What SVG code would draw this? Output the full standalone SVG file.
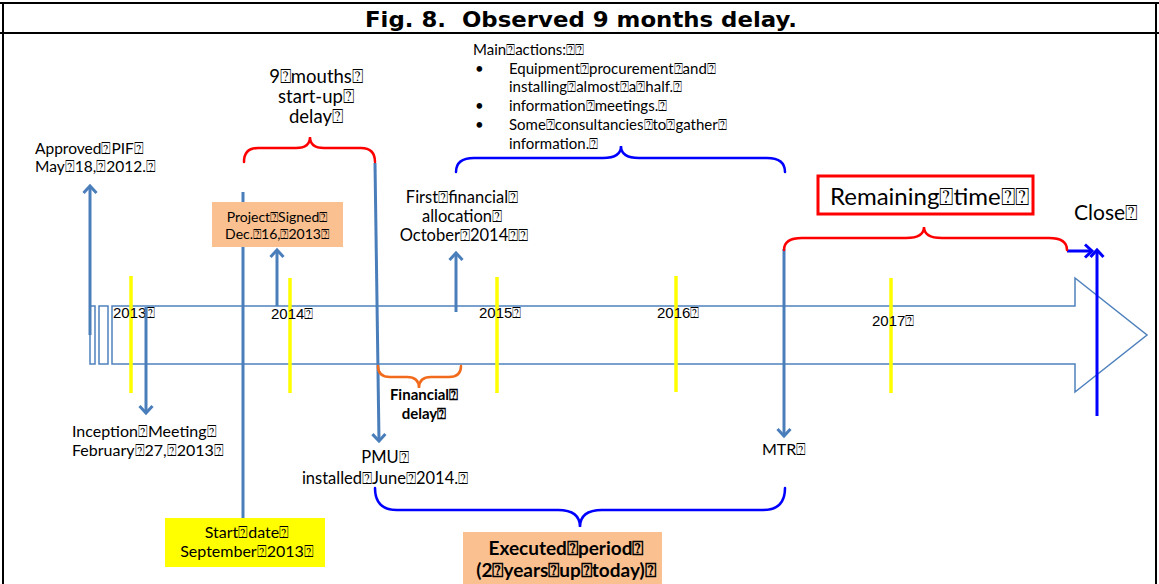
<svg xmlns="http://www.w3.org/2000/svg" width="1159" height="584" viewBox="0 0 1159 584">
  <style>
    .t { font-family: Lato, "Liberation Sans", sans-serif; font-size: 15px; fill: #000; }
    .c { text-anchor: middle; }
    .b { font-weight: bold; }
    .yr { font-family: "Liberation Sans", sans-serif; font-size: 15px; fill: #000; }
    .frame { stroke: #000; stroke-width: 2; fill: none; }
    .arr { stroke: #4A7EBB; stroke-width: 3; fill: none; }
    .arrB { stroke: #0000FF; stroke-width: 3; fill: none; }
    .yel { stroke: #FFFF00; stroke-width: 3.5; }
    .brace { fill: none; stroke-width: 2.5; stroke-linecap: round; }
  </style>
  <defs>
    <marker id="headSteel" markerUnits="userSpaceOnUse" markerWidth="18" markerHeight="18" viewBox="-9 -9 18 18" refX="0" refY="0" orient="auto">
      <path d="M-7,-6.5 L0,0 L-7,6.5" fill="none" stroke="#4A7EBB" stroke-width="3"/>
    </marker>
    <marker id="headBlue" markerUnits="userSpaceOnUse" markerWidth="18" markerHeight="18" viewBox="-9 -9 18 18" refX="0" refY="0" orient="auto">
      <path d="M-7,-6.5 L0,0 L-7,6.5" fill="none" stroke="#0000FF" stroke-width="3"/>
    </marker>
  </defs>

  <rect width="1159" height="584" fill="#fff"/>

  <!-- page frame and title bar -->
  <g id="title">
    <line class="frame" x1="0" y1="3" x2="1159" y2="3"/>
    <line class="frame" x1="0" y1="33" x2="1159" y2="33"/>
    <line class="frame" x1="3" y1="3" x2="3" y2="584"/>
    <line class="frame" x1="1156" y1="3" x2="1156" y2="584"/>
    <text x="581" y="27" text-anchor="middle" xml:space="preserve" font-family="'DejaVu Sans', Verdana, sans-serif" font-weight="bold" font-size="22" textLength="432" lengthAdjust="spacingAndGlyphs">Fig. 8.  Observed 9 months delay.</text>
  </g>

  <!-- timeline block arrow -->
  <g id="timeline">
    <path d="M112,306 H1075 V278 L1147,335 L1075,392 V364 H112 Z" fill="#fff" stroke="#4F81BD" stroke-width="1.5"/>
    <rect x="90" y="306" width="5" height="58" fill="#fff" stroke="#4F81BD" stroke-width="1.5"/>
    <rect x="99" y="306" width="9" height="58" fill="#fff" stroke="#4F81BD" stroke-width="1.5"/>
  </g>

  <!-- year markers -->
  <g id="years">
    <line class="yel" x1="131" y1="276" x2="131" y2="393"/>
    <line class="yel" x1="290" y1="278" x2="290" y2="393"/>
    <line class="yel" x1="497" y1="277" x2="497" y2="393"/>
    <line class="yel" x1="676" y1="276" x2="676" y2="392"/>
    <line class="yel" x1="891" y1="278" x2="891" y2="393"/>
    <text class="yr" x="113" y="318">2013⍰</text>
    <text class="yr" x="271" y="319">2014⍰</text>
    <text class="yr" x="479" y="318">2015⍰</text>
    <text class="yr" x="657" y="318">2016⍰</text>
    <text class="yr" x="872" y="326">2017⍰</text>
  </g>

  <!-- connectors -->
  <g id="connectors">
    <line class="arr" x1="90" y1="335" x2="90" y2="186" marker-end="url(#headSteel)"/>
    <line class="arr" x1="146" y1="307" x2="146" y2="413" marker-end="url(#headSteel)"/>
    <line class="arr" x1="243" y1="192" x2="243" y2="518"/>
    <line class="arr" x1="277" y1="306" x2="277" y2="250" marker-end="url(#headSteel)"/>
    <line class="arr" x1="375" y1="163" x2="379" y2="441" marker-end="url(#headSteel)"/>
    <line class="arr" x1="456" y1="312" x2="456" y2="253" marker-end="url(#headSteel)"/>
    <line class="arr" x1="784" y1="249" x2="784" y2="436" marker-end="url(#headSteel)"/>
    <line class="arrB" x1="1097" y1="416" x2="1097" y2="250" marker-end="url(#headBlue)"/>
    <line class="arrB" x1="1067" y1="251" x2="1092" y2="251" marker-end="url(#headBlue)"/>

    <!-- braces -->
    <path class="brace" stroke="#FF0000" d="M244,162 Q244,148 258,148 L296,148 Q310,148 310,137 Q310,148 324,148 L361,148 Q375,148 375,162"/>
    <path class="brace" stroke="#0000FF" d="M456,172 Q456,158 474,158 L603,158 Q621,158 621,146 Q621,158 639,158 L767,158 Q785,158 785,172"/>
    <path class="brace" stroke="#FF0000" d="M784,250 Q784,238 802,238 L906,238 Q924,238 924,227 Q924,238 942,238 L1049,238 Q1067,238 1067,250"/>
    <path class="brace" stroke="#F26A1B" d="M378,366 Q378,377 390,377 L407,377 Q419,377 419,388 Q419,377 431,377 L449,377 Q461,377 461,366"/>
    <path class="brace" stroke="#0000FF" d="M375,488 Q375,510 397,510 L558,510 Q580,510 580,527 Q580,510 602,510 L763,510 Q785,510 785,488"/>
  </g>

  <!-- milestone labels -->
  <g id="approved-pif">
    <text class="t" x="35" y="154" style="font-size:15.5px">Approved⍰PIF⍰</text>
    <text class="t" x="35" y="172" style="font-size:15.5px">May⍰18,⍰2012.⍰</text>
  </g>

  <g id="start-up-delay">
    <text class="t c" x="316" y="83" style="font-size:18.5px">9⍰mouths⍰</text>
    <text class="t c" x="316" y="103" style="font-size:18.5px">start-up⍰</text>
    <text class="t c" x="316" y="123" style="font-size:18.5px">delay⍰</text>
  </g>

  <g id="main-actions">
    <text class="t" x="473" y="55">Main⍰actions:⍰⍰</text>
    <text class="t" x="475" y="74">•</text>
    <text class="t" x="509" y="74">Equipment⍰procurement⍰and⍰</text>
    <text class="t" x="509" y="92">installing⍰almost⍰a⍰half.⍰</text>
    <text class="t" x="475" y="111">•</text>
    <text class="t" x="509" y="111">information⍰meetings.⍰</text>
    <text class="t" x="475" y="130">•</text>
    <text class="t" x="509" y="130">Some⍰consultancies⍰to⍰gather⍰</text>
    <text class="t" x="509" y="149">information.⍰</text>
  </g>

  <g id="project-signed">
    <rect x="212" y="202" width="131" height="45" fill="#FAC090"/>
    <text class="t c" x="277" y="222" style="font-size:14px">Project⍰Signed⍰</text>
    <text class="t c" x="277" y="239" style="font-size:14px">Dec.⍰16,⍰2013⍰</text>
  </g>

  <g id="first-allocation">
    <text class="t c" x="462" y="203" style="font-size:16.5px">First⍰financial⍰</text>
    <text class="t c" x="462" y="222" style="font-size:16.5px">allocation⍰</text>
    <text class="t c" x="464" y="241" style="font-size:16.5px">October⍰2014⍰⍰</text>
  </g>

  <g id="remaining-time">
    <rect x="818" y="176" width="215" height="38" fill="#fff" stroke="#FF0000" stroke-width="3"/>
    <text class="t" x="830" y="205" style="font-size:24px">Remaining⍰time⍰⍰</text>
  </g>

  <g id="close">
    <text class="t" x="1074" y="220" style="font-size:21px">Close⍰</text>
  </g>

  <g id="inception">
    <text class="t" x="72" y="437" style="font-size:16px">Inception⍰Meeting⍰</text>
    <text class="t" x="72" y="456" style="font-size:16px">February⍰27,⍰2013⍰</text>
  </g>

  <g id="financial-delay">
    <text class="t c b" x="424" y="400" style="font-size:15px">Financial⍰</text>
    <text class="t c b" x="424" y="419" style="font-size:15px">delay⍰</text>
  </g>

  <g id="pmu">
    <text class="t c" x="385" y="463" style="font-size:16.5px">PMU⍰</text>
    <text class="t c" x="385" y="484" style="font-size:16.5px">installed⍰June⍰2014.⍰</text>
  </g>

  <g id="mtr">
    <text class="t" x="762" y="455" style="font-size:16px">MTR⍰</text>
  </g>

  <g id="start-date">
    <rect x="165" y="518" width="160" height="49" fill="#FFFF00"/>
    <text class="t c" x="247" y="538" style="font-size:16px">Start⍰date⍰</text>
    <text class="t c" x="247" y="557" style="font-size:16px">September⍰2013⍰</text>
  </g>

  <g id="executed-period">
    <rect x="463" y="532" width="199" height="52" fill="#FAC090"/>
    <text class="t c b" x="566" y="555" style="font-size:19px">Executed⍰period⍰</text>
    <text class="t c b" x="566" y="577" style="font-size:19px">(2⍰years⍰up⍰today)⍰</text>
  </g>
</svg>
